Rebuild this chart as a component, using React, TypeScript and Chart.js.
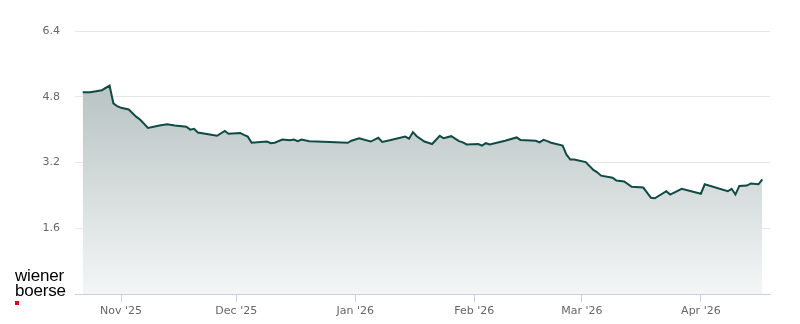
import React, { useEffect, useRef } from "react";
import { Chart, registerables } from "chart.js";

Chart.register(...registerables);

const dates: string[] = [
  "2025-10-22", "2025-10-24", "2025-10-27", "2025-10-29", "2025-10-30", "2025-10-31",
  "2025-11-01", "2025-11-03", "2025-11-04", "2025-11-05", "2025-11-06", "2025-11-08",
  "2025-11-11", "2025-11-13", "2025-11-15", "2025-11-18", "2025-11-19", "2025-11-20",
  "2025-11-21", "2025-11-26", "2025-11-28", "2025-11-29",
  "2025-12-02", "2025-12-03", "2025-12-04", "2025-12-05", "2025-12-09", "2025-12-10",
  "2025-12-11", "2025-12-13", "2025-12-15", "2025-12-16", "2025-12-17", "2025-12-18",
  "2025-12-20", "2025-12-22", "2025-12-30", "2025-12-31",
  "2026-01-02", "2026-01-05", "2026-01-07", "2026-01-08", "2026-01-10", "2026-01-14",
  "2026-01-15", "2026-01-16", "2026-01-17", "2026-01-19", "2026-01-21", "2026-01-23",
  "2026-01-24", "2026-01-26", "2026-01-28", "2026-01-29", "2026-01-30",
  "2026-02-02", "2026-02-03", "2026-02-04", "2026-02-05", "2026-02-09", "2026-02-12",
  "2026-02-13", "2026-02-17", "2026-02-18", "2026-02-19", "2026-02-20", "2026-02-21",
  "2026-02-24", "2026-02-25", "2026-02-26", "2026-02-27",
  "2026-03-02", "2026-03-04", "2026-03-05", "2026-03-06", "2026-03-09", "2026-03-10",
  "2026-03-12", "2026-03-14", "2026-03-17", "2026-03-19", "2026-03-20", "2026-03-23",
  "2026-03-24", "2026-03-27",
  "2026-04-01", "2026-04-02", "2026-04-08", "2026-04-09", "2026-04-10", "2026-04-11",
  "2026-04-13", "2026-04-14", "2026-04-16", "2026-04-17",
];

const prices: number[] = [
  4.91, 4.91, 4.96, 5.07, 4.64, 4.57,
  4.53, 4.49, 4.40, 4.31, 4.24, 4.04,
  4.10, 4.13, 4.10, 4.07, 4.00, 4.02,
  3.93, 3.85, 3.97, 3.90,
  3.92, 3.87, 3.83, 3.68, 3.71, 3.67,
  3.68, 3.76, 3.74, 3.76, 3.72, 3.76,
  3.72, 3.71, 3.68, 3.73,
  3.79, 3.71, 3.80, 3.70, 3.74, 3.83,
  3.78, 3.94, 3.84, 3.71, 3.65, 3.85,
  3.79, 3.84, 3.72, 3.69, 3.64,
  3.65, 3.61, 3.67, 3.64, 3.73, 3.81,
  3.75, 3.73, 3.69, 3.75, 3.72, 3.68,
  3.61, 3.39, 3.27, 3.27,
  3.21, 3.02, 2.96, 2.88, 2.83, 2.76,
  2.74, 2.61, 2.59, 2.34, 2.33, 2.50,
  2.42, 2.56,
  2.44, 2.67, 2.50, 2.56, 2.42, 2.63,
  2.64, 2.69, 2.67, 2.79,
];

const monthTickDates: string[] = ["2025-11-01", "2025-12-01", "2026-01-01", "2026-02-01", "2026-03-01", "2026-04-01"];
const monthTickLabels: string[] = ["Nov '25", "Dec '25", "Jan '26", "Feb '26", "Mar '26", "Apr '26"];
const yTicks: number[] = [0, 1.6, 3.2, 4.8, 6.4];
const xRangeDates: string[] = ["2025-10-20", "2026-04-19"];

const BASE = Date.UTC(2025, 10, 1);
function toDay(s: string): number {
  const [y, m, d] = s.split("-").map(Number);
  return (Date.UTC(y, m - 1, d) - BASE) / 86400000;
}

export default function App() {
  const ref = useRef<HTMLCanvasElement | null>(null);

  useEffect(() => {
    if (!ref.current) return;
    const points = dates.map((d, i) => ({ x: toDay(d), y: prices[i] }));
    const tickVals = monthTickDates.map(toDay);
    const chart = new Chart(ref.current, {
      type: "line",
      data: {
        datasets: [
          {
            data: points,
            borderColor: "#0f4a45",
            borderWidth: 2,
            pointRadius: 0,
            tension: 0,
            fill: "origin",
            backgroundColor: (ctx: any) => {
              const c = ctx.chart;
              const area = c.chartArea;
              if (!area) return "rgba(180,195,194,0.8)";
              const g = c.ctx.createLinearGradient(0, area.top, 0, area.bottom);
              g.addColorStop(0, "rgb(168,182,181)");
              g.addColorStop(1, "rgb(244,246,246)");
              return g;
            },
          },
        ],
      },
      options: {
        animation: false,
        responsive: true,
        maintainAspectRatio: false,
        layout: { padding: { left: 0, right: 30, top: 31, bottom: 0 } },
        plugins: { legend: { display: false }, tooltip: { enabled: false } },
        scales: {
          x: {
            type: "linear",
            min: toDay(xRangeDates[0]),
            max: toDay(xRangeDates[1]),
            afterBuildTicks: (scale: any) => {
              scale.ticks = tickVals.map((v) => ({ value: v }));
            },
            ticks: {
              autoSkip: false,
              maxRotation: 0,
              padding: 3,
              color: "#666",
              font: { family: "DejaVu Sans", size: 11 },
              callback: (v: any) => {
                const i = tickVals.indexOf(Number(v));
                return i >= 0 ? monthTickLabels[i] : "";
              },
            },
            grid: { drawOnChartArea: false, drawTicks: true, tickLength: 8, color: "#c6d3e6" },
            border: { display: true, color: "#c6d3e6" },
            afterFit: (scale: any) => {
              scale.height = 30;
            },
          },
          y: {
            min: 0,
            max: 6.4,
            afterBuildTicks: (scale: any) => {
              scale.ticks = yTicks.map((v) => ({ value: v }));
            },
            ticks: {
              padding: 15,
              color: "#666",
              font: { family: "DejaVu Sans", size: 11 },
              callback: (v: any) => (Number(v) === 0 ? "" : Number(v).toFixed(1)),
            },
            grid: { drawTicks: false, color: "#e6e6e6" },
            border: { display: false },
            afterFit: (scale: any) => {
              scale.width = 75;
            },
          },
        },
      },
    });
    return () => chart.destroy();
  }, []);

  return (
    <div style={{ position: "absolute", left: 0, top: 0, width: 800, height: 324, background: "#fff" }}>
      <canvas ref={ref} />
      <div
        style={{
          position: "absolute",
          left: 15,
          top: 268,
          fontFamily: "'Liberation Sans', Arial, sans-serif",
          fontSize: 17,
          lineHeight: "15px",
          color: "#000",
          letterSpacing: "-0.2px",
        }}
      >
        <div>wiener</div>
        <div>boerse</div>
      </div>
      <div style={{ position: "absolute", left: 15, top: 301, width: 4, height: 4, background: "#e2001a" }} />
    </div>
  );
}
